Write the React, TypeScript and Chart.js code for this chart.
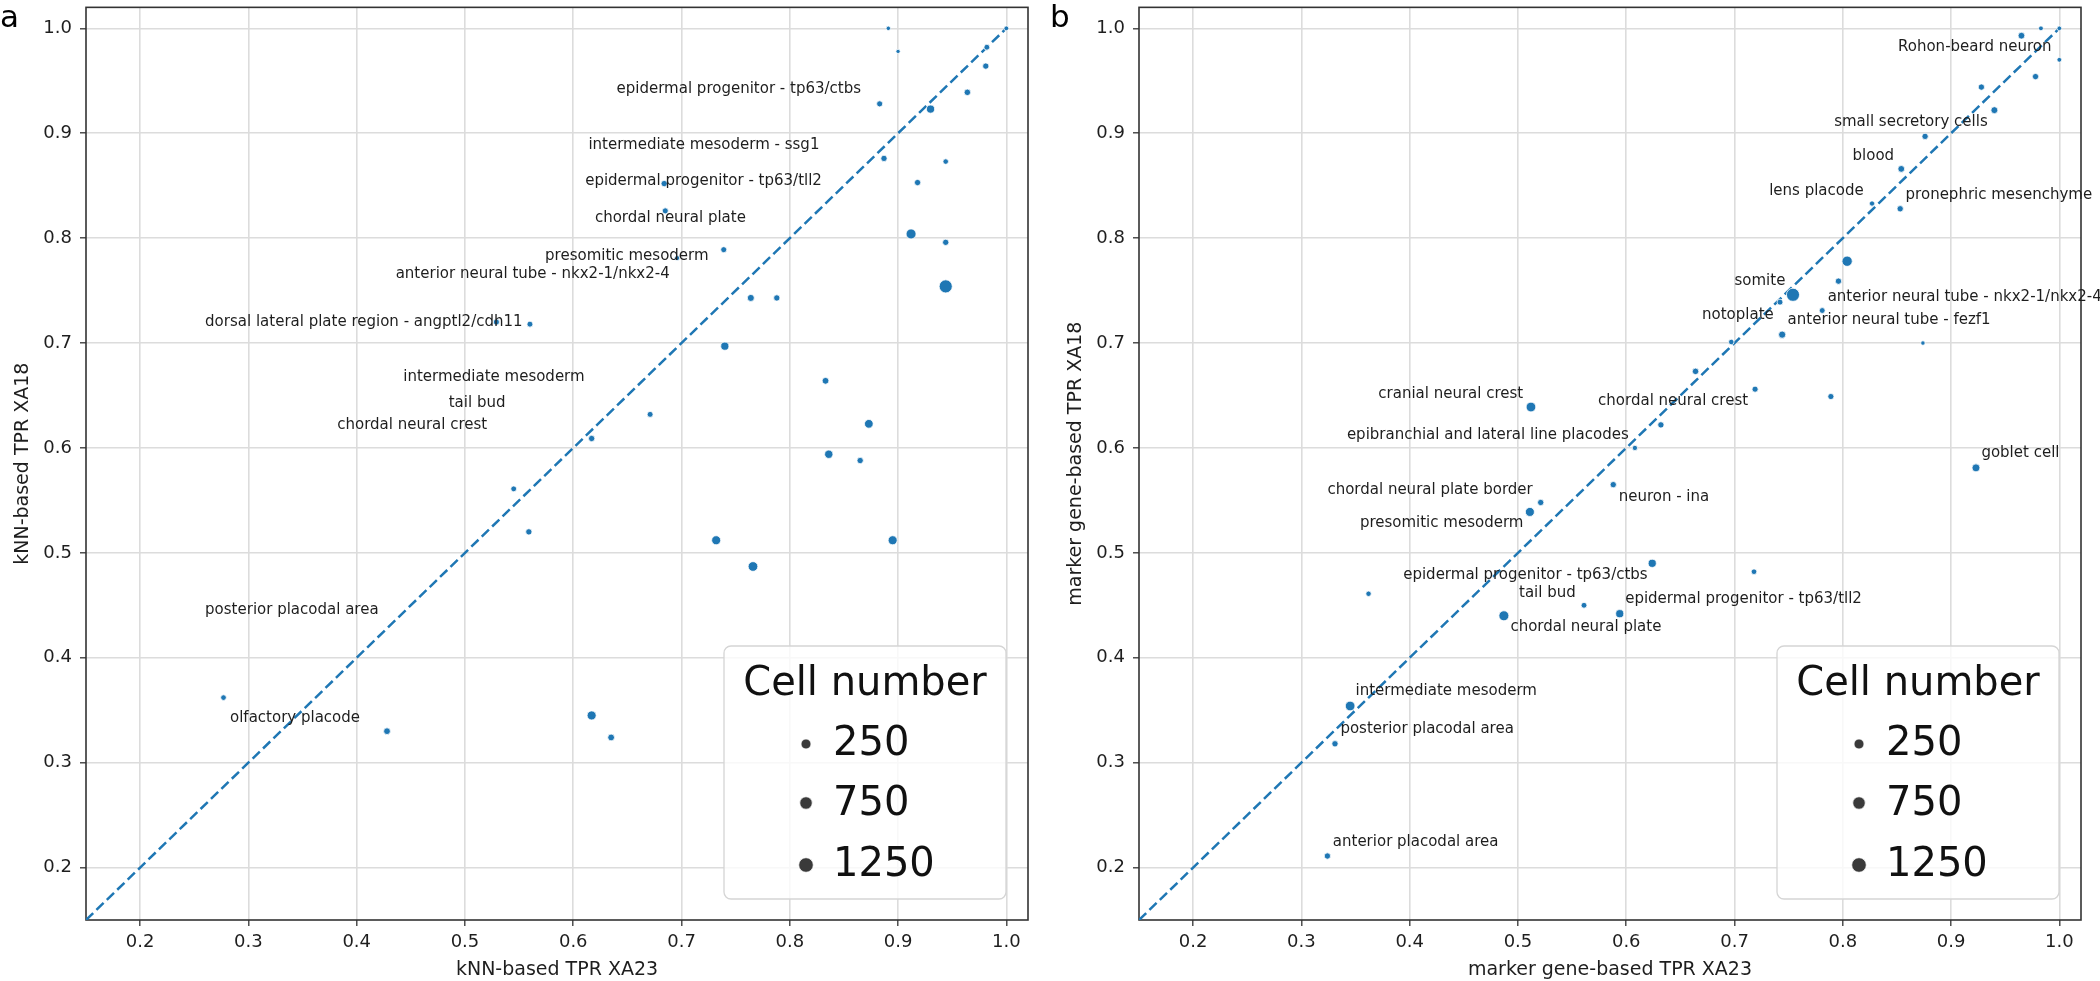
import React, { useEffect, useRef } from 'react';
import { Chart, registerables } from 'chart.js';

Chart.register(...registerables);

// ---------- shared axis values ----------
const tickValues = [0.2, 0.3, 0.4, 0.5, 0.6, 0.7, 0.8, 0.9, 1.0];
const axisMin = 0.15;
const axisMax = 1.02;
const diagonalEnd = 1.0;
const legendCells = [250, 750, 1250];

// ---------- panel a : kNN-based ----------
const knnX = [0.891, 0.900, 1.000, 0.982, 0.981, 0.964, 0.883, 0.930, 0.887, 0.944, 0.918, 0.684, 0.685, 0.912, 0.944, 0.739, 0.696, 0.944, 0.764, 0.788, 0.529, 0.560, 0.740, 0.833, 0.671, 0.873, 0.617, 0.836, 0.865, 0.545, 0.559, 0.732, 0.895, 0.766, 0.277, 0.617, 0.428, 0.635];
const knnY = [1.000, 0.978, 1.000, 0.982, 0.964, 0.939, 0.928, 0.923, 0.876, 0.873, 0.853, 0.852, 0.826, 0.804, 0.796, 0.789, 0.781, 0.754, 0.743, 0.743, 0.720, 0.718, 0.697, 0.664, 0.632, 0.623, 0.609, 0.594, 0.588, 0.561, 0.520, 0.512, 0.512, 0.487, 0.362, 0.345, 0.330, 0.324];
const knnCells = [30, 20, 60, 150, 200, 220, 180, 420, 200, 120, 200, 200, 170, 700, 200, 170, 80, 1300, 280, 200, 180, 160, 420, 250, 160, 500, 200, 450, 200, 150, 200, 550, 550, 650, 130, 550, 250, 250];
const knnLabelText = [
  'epidermal progenitor - tp63/ctbs',
  'intermediate mesoderm - ssg1',
  'epidermal progenitor - tp63/tll2',
  'chordal neural plate',
  'presomitic mesoderm',
  'anterior neural tube - nkx2-1/nkx2-4',
  'dorsal lateral plate region - angptl2/cdh11',
  'intermediate mesoderm',
  'tail bud',
  'chordal neural crest',
  'posterior placodal area',
  'olfactory placode',
];
const knnLabelX = [0.640, 0.614, 0.611, 0.620, 0.574, 0.436, 0.260, 0.443, 0.485, 0.382, 0.260, 0.283];
const knnLabelY = [0.942, 0.889, 0.854, 0.819, 0.783, 0.766, 0.720, 0.668, 0.643, 0.622, 0.445, 0.342];

// ---------- panel b : marker gene-based ----------
const mkX = [0.965, 0.983, 1.000, 1.000, 0.978, 0.928, 0.940, 0.876, 0.854, 0.827, 0.853, 0.804, 0.796, 0.754, 0.742, 0.781, 0.744, 0.874, 0.697, 0.664, 0.719, 0.789, 0.512, 0.632, 0.608, 0.923, 0.588, 0.521, 0.511, 0.624, 0.718, 0.362, 0.561, 0.594, 0.487, 0.345, 0.331, 0.324];
const mkY = [0.993, 1.000, 1.000, 0.970, 0.954, 0.944, 0.922, 0.897, 0.866, 0.833, 0.828, 0.778, 0.759, 0.746, 0.739, 0.731, 0.708, 0.700, 0.701, 0.673, 0.656, 0.649, 0.639, 0.622, 0.600, 0.581, 0.565, 0.548, 0.539, 0.490, 0.482, 0.461, 0.450, 0.442, 0.440, 0.354, 0.318, 0.211];
const mkCells = [250, 60, 50, 60, 200, 200, 270, 200, 250, 100, 200, 750, 200, 1300, 160, 150, 300, 30, 120, 220, 180, 180, 650, 200, 100, 400, 200, 200, 550, 420, 130, 110, 150, 420, 700, 650, 200, 200];
const mkLabelText = [
  'Rohon-beard neuron',
  'small secretory cells',
  'blood',
  'lens placode',
  'pronephric mesenchyme',
  'somite',
  'anterior neural tube - nkx2-1/nkx2-4',
  'notoplate',
  'anterior neural tube - fezf1',
  'cranial neural crest',
  'chordal neural crest',
  'epibranchial and lateral line placodes',
  'goblet cell',
  'chordal neural plate border',
  'neuron - ina',
  'presomitic mesoderm',
  'epidermal progenitor - tp63/ctbs',
  'tail bud',
  'epidermal progenitor - tp63/tll2',
  'chordal neural plate',
  'intermediate mesoderm',
  'posterior placodal area',
  'anterior placodal area',
];
const mkLabelX = [0.851, 0.792, 0.809, 0.732, 0.858, 0.700, 0.786, 0.670, 0.749, 0.371, 0.574, 0.342, 0.928, 0.324, 0.593, 0.354, 0.394, 0.501, 0.599, 0.493, 0.350, 0.336, 0.329];
const mkLabelY = [0.982, 0.911, 0.878, 0.845, 0.841, 0.759, 0.744, 0.727, 0.722, 0.651, 0.645, 0.612, 0.595, 0.560, 0.553, 0.528, 0.479, 0.462, 0.456, 0.429, 0.368, 0.332, 0.224];

// ---------- styling ----------
const FONT = '"DejaVu Sans", sans-serif';
const BLUE = '#1f77b4';
const TEXT = '#1e1e1e';
const pointRadius = (c: number) => Math.sqrt(4 + 0.03 * c);
const legendRadius = (c: number) => Math.sqrt(18 + 0.0283 * c);

type PanelProps = {
  letter: string;
  xs: number[];
  ys: number[];
  cells: number[];
  labels: string[];
  lx: number[];
  ly: number[];
  xTitle: string;
  yTitle: string;
  yAxisWidth: number;
  padRight: number;
  left: number;
};

function Panel(p: PanelProps) {
  const ref = useRef<HTMLCanvasElement>(null);

  useEffect(() => {
    if (!ref.current) return;
    const points = p.xs.map((x, i) => ({ x, y: p.ys[i] }));
    const radii = p.cells.map(pointRadius);

    const framePlugin = {
      id: 'frame',
      beforeDatasetsDraw(chart: any) {
        const { ctx, chartArea } = chart;
        ctx.save();
        ctx.strokeStyle = '#333';
        ctx.lineWidth = 1.6;
        ctx.strokeRect(chartArea.left, chartArea.top, chartArea.right - chartArea.left, chartArea.bottom - chartArea.top);
        ctx.restore();
      },
    };

    const annotationPlugin = {
      id: 'annotations',
      afterDatasetsDraw(chart: any) {
        const { ctx, scales } = chart;
        ctx.save();
        ctx.font = `15px ${FONT}`;
        ctx.fillStyle = TEXT;
        ctx.textAlign = 'left';
        ctx.textBaseline = 'middle';
        p.labels.forEach((t, i) => {
          ctx.fillText(t, scales.x.getPixelForValue(p.lx[i]), scales.y.getPixelForValue(p.ly[i]));
        });
        ctx.restore();
      },
    };

    const legendPlugin = {
      id: 'sizeLegend',
      afterDraw(chart: any) {
        const { ctx, chartArea } = chart;
        const w = 282;
        const h = 253;
        const right = chartArea.right - 22;
        const bottom = chartArea.bottom - 21;
        const lft = right - w;
        const top = bottom - h;
        ctx.save();
        ctx.beginPath();
        if ((ctx as any).roundRect) (ctx as any).roundRect(lft, top, w, h, 7);
        else ctx.rect(lft, top, w, h);
        ctx.fillStyle = 'rgba(255,255,255,0.8)';
        ctx.fill();
        ctx.strokeStyle = '#d5d5d5';
        ctx.lineWidth = 1.3;
        ctx.stroke();

        ctx.fillStyle = '#111';
        ctx.font = `40px ${FONT}`;
        ctx.textAlign = 'center';
        ctx.textBaseline = 'alphabetic';
        ctx.fillText('Cell number', lft + w / 2, top + 49);

        const textBase = [109, 169, 230];
        const markerY = [98, 157, 219];
        ctx.textAlign = 'left';
        legendCells.forEach((c, i) => {
          ctx.beginPath();
          ctx.arc(lft + 82, top + markerY[i], legendRadius(c), 0, Math.PI * 2);
          ctx.fillStyle = '#3a3a3a';
          ctx.fill();
          ctx.strokeStyle = '#fff';
          ctx.lineWidth = 0.8;
          ctx.stroke();
          ctx.fillStyle = '#111';
          ctx.fillText(String(c), lft + 109, top + textBase[i]);
        });

        // panel letter
        ctx.font = `31px ${FONT}`;
        ctx.fillStyle = '#000';
        ctx.textAlign = 'left';
        ctx.fillText(p.letter, 0, 27);
        ctx.restore();
      },
    };

    const yTitleCenter = p.yAxisWidth - 63;

    const chart = new Chart(ref.current, {
      type: 'scatter',
      data: {
        datasets: [
          {
            type: 'line',
            data: [
              { x: axisMin, y: axisMin },
              { x: diagonalEnd, y: diagonalEnd },
            ],
            borderColor: BLUE,
            borderWidth: 2.5,
            borderDash: [10, 4.5],
            pointRadius: 0,
            fill: false,
            order: 2,
          } as any,
          {
            data: points,
            backgroundColor: BLUE,
            borderColor: '#ffffff',
            borderWidth: 0.8,
            pointRadius: radii,
            pointHoverRadius: radii,
            order: 1,
          } as any,
        ],
      },
      options: {
        responsive: false,
        animation: false,
        events: [],
        layout: { padding: { top: 5, right: p.padRight, bottom: 0, left: 0 } },
        plugins: { legend: { display: false }, tooltip: { enabled: false } },
        scales: {
          x: {
            type: 'linear',
            min: axisMin,
            max: axisMax,
            afterBuildTicks: (a: any) => {
              a.ticks = tickValues.map((v) => ({ value: v }));
            },
            afterFit: (s: any) => {
              s.height = 61;
              s.paddingLeft = 0;
              s.paddingRight = 0;
            },
            ticks: {
              callback: (v: any) => Number(v).toFixed(1),
              font: { family: FONT, size: 18 },
              color: TEXT,
              padding: 6,
              maxRotation: 0,
              autoSkip: false,
            },
            grid: { color: '#dcdcdc', lineWidth: 1.6, tickLength: 6, tickColor: '#333', tickWidth: 1.3 },
            border: { display: false },
            title: { display: true, text: p.xTitle, font: { family: FONT, size: 19 }, color: TEXT, padding: { top: 0, bottom: 0 } },
          },
          y: {
            type: 'linear',
            min: axisMin,
            max: axisMax,
            afterBuildTicks: (a: any) => {
              a.ticks = tickValues.map((v) => ({ value: v }));
            },
            afterFit: (s: any) => {
              s.width = p.yAxisWidth;
              s.paddingTop = 0;
              s.paddingBottom = 0;
            },
            ticks: {
              callback: (v: any) => Number(v).toFixed(1),
              font: { family: FONT, size: 18 },
              color: TEXT,
              padding: 8,
              autoSkip: false,
            },
            grid: { color: '#dcdcdc', lineWidth: 1.6, tickLength: 6, tickColor: '#333', tickWidth: 1.3 },
            border: { display: false },
            title: {
              display: true,
              text: p.yTitle,
              font: { family: FONT, size: 19 },
              color: TEXT,
              padding: { top: yTitleCenter - 11.4, bottom: 0 },
            },
          },
        },
      } as any,
      plugins: [framePlugin, annotationPlugin, legendPlugin],
    });

    return () => chart.destroy();
  }, []);

  return (
    <canvas
      ref={ref}
      width={1050}
      height={981}
      style={{ position: 'absolute', left: p.left, top: 0, width: 1050, height: 981 }}
    />
  );
}

export default function App() {
  return (
    <div style={{ position: 'absolute', left: 0, top: 0, width: 2100, height: 981, background: '#fff', overflow: 'hidden' }}>
      <Panel
        letter="a"
        xs={knnX}
        ys={knnY}
        cells={knnCells}
        labels={knnLabelText}
        lx={knnLabelX}
        ly={knnLabelY}
        xTitle="kNN-based TPR XA23"
        yTitle="kNN-based TPR XA18"
        yAxisWidth={86}
        padRight={22}
        left={0}
      />
      <Panel
        letter="b"
        xs={mkX}
        ys={mkY}
        cells={mkCells}
        labels={mkLabelText}
        lx={mkLabelX}
        ly={mkLabelY}
        xTitle="marker gene-based TPR XA23"
        yTitle="marker gene-based TPR XA18"
        yAxisWidth={89}
        padRight={19}
        left={1050}
      />
    </div>
  );
}
